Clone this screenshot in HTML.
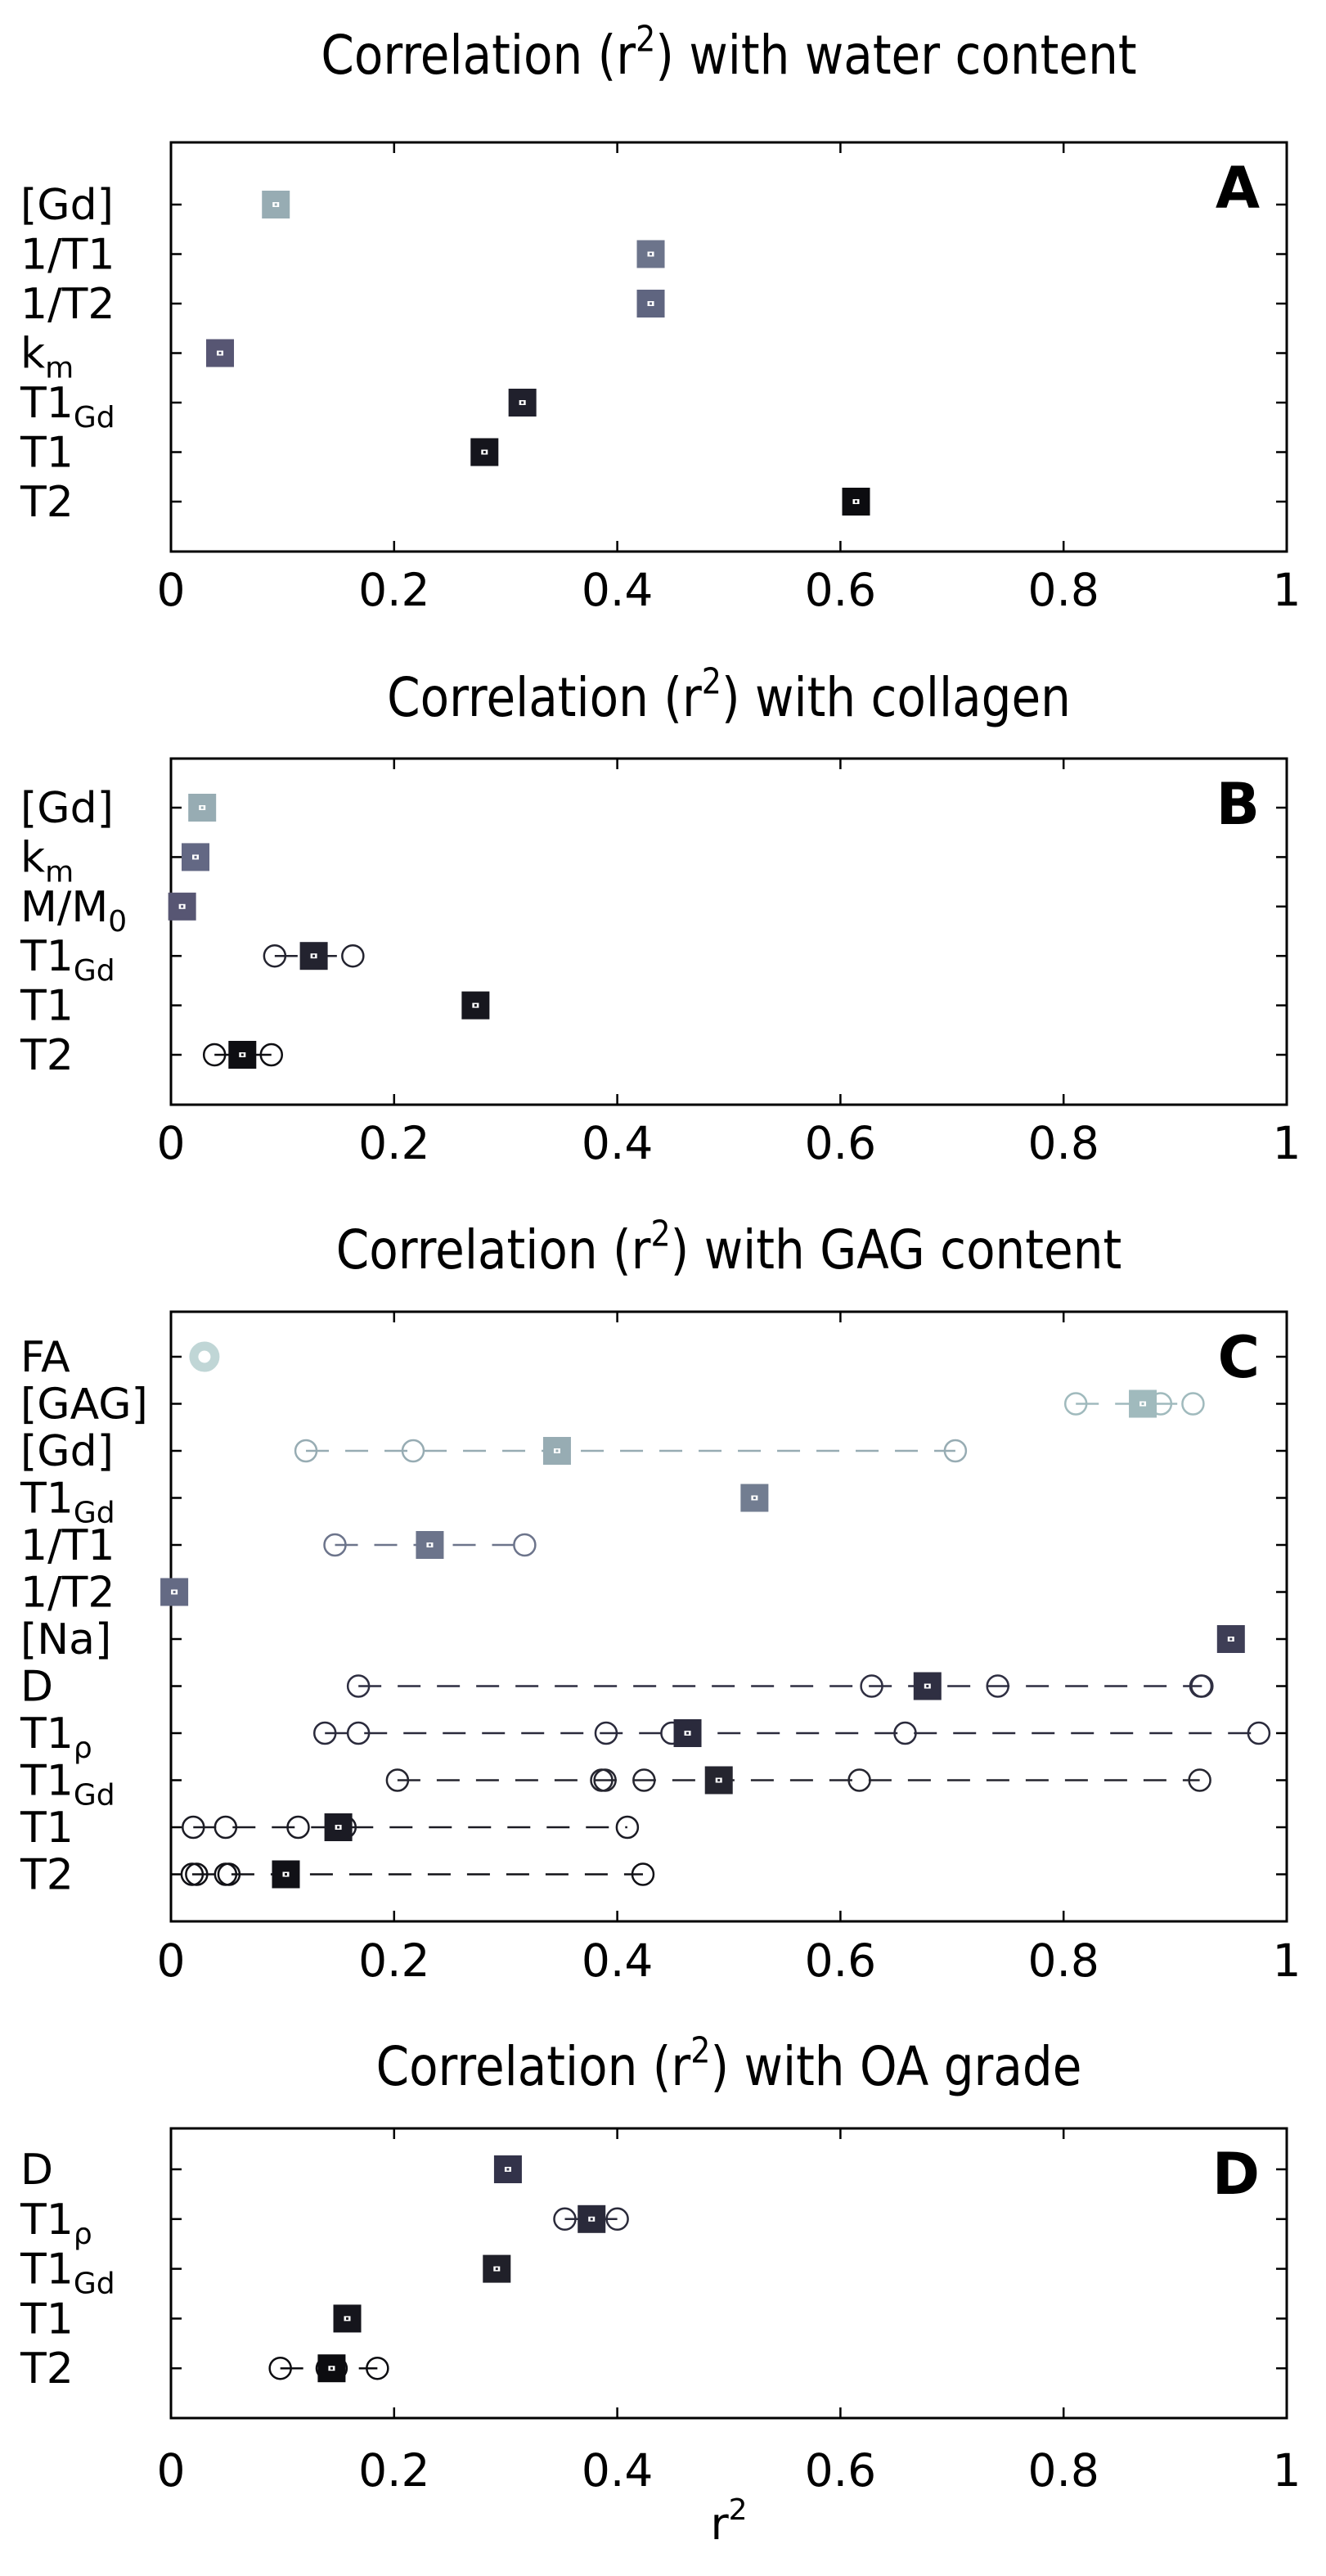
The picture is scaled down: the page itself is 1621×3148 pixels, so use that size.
<!DOCTYPE html>
<html><head><meta charset="utf-8"><title>Correlation panels</title>
<style>
html,body{margin:0;padding:0;background:#fff;}
svg{display:block;font-family:"DejaVu Sans","Liberation Sans",sans-serif;}
</style></head>
<body>
<svg id="fig" width="1621" height="3148" viewBox="0 0 1621 3148" xmlns="http://www.w3.org/2000/svg"></svg>
<script>
// ---- Panel A data: water content ----
const aLabels = [["[Gd]",""],["1/T1",""],["1/T2",""],["k","m"],["T1","Gd"],["T1",""],["T2",""]];
const aValues = [0.094, 0.430, 0.430, 0.044, 0.315, 0.281, 0.614];
const aCircles = [[],[],[],[],[],[],[]];
// ---- Panel B data: collagen ----
const bLabels = [["[Gd]",""],["k","m"],["M/M","0"],["T1","Gd"],["T1",""],["T2",""]];
const bValues = [0.028, 0.022, 0.010, 0.128, 0.273, 0.064];
const bCircles = [[],[],[],[0.093,0.163],[],[0.039,0.090]];
// ---- Panel C data: GAG content ----
const cLabels = [["FA",""],["[GAG]",""],["[Gd]",""],["T1","Gd"],["1/T1",""],["1/T2",""],["[Na]",""],["D",""],["T1","ρ"],["T1","Gd"],["T1",""],["T2",""]];
const cValues = [null, 0.871, 0.346, 0.523, 0.232, 0.003, 0.950, 0.678, 0.463, 0.491, 0.150, 0.103];
const cCircles = [[0.030],[0.811,0.887,0.916],[0.121,0.217,0.703],[],[0.147,0.317],[],[],
  [0.168,0.628,0.741,0.923,0.924],[0.138,0.168,0.390,0.449,0.658,0.975],
  [0.203,0.386,0.389,0.424,0.617,0.922],[0.020,0.049,0.114,0.156,0.409],[0.019,0.023,0.049,0.052,0.423]];
// ---- Panel D data: OA grade ----
const dLabels = [["D",""],["T1","ρ"],["T1","Gd"],["T1",""],["T2",""]];
const dValues = [0.302, 0.377, 0.292, 0.158, 0.144];
const dCircles = [[],[0.353,0.400],[],[],[0.098,0.140,0.148,0.185]];
// ---- Axis ticks ----
const xTicks = [0, 0.2, 0.4, 0.6, 0.8, 1];
const xTickLabels = ["0","0.2","0.4","0.6","0.8","1"];

const NS = "http://www.w3.org/2000/svg";
const svg = document.getElementById('fig');
const X0 = 209, X1 = 1573;
function xs(v){ return X0 + v*(X1-X0); }
function mk(tag, attrs, parent){
  const e = document.createElementNS(NS, tag);
  for (const k in attrs) e.setAttribute(k, attrs[k]);
  (parent||svg).appendChild(e);
  return e;
}

const panels = [
  {key:"a", title:"with water content", letter:"A", top:174, bottom:674, first:250, sp:60.5, titleY:90, lblGap:66,
   labels:aLabels, values:aValues, circles:aCircles,
   colors:["#97acb3","#6c748b","#5f6580","#575673","#20202c","#15151c","#0c0c10"]},
  {key:"b", title:"with collagen", letter:"B", top:927, bottom:1350, first:987, sp:60.4, titleY:875, lblGap:66,
   labels:bLabels, values:bValues, circles:bCircles,
   colors:["#97acb3","#636884","#575673","#23232f","#17171e","#0e0e12"]},
  {key:"c", title:"with GAG content", letter:"C", top:1603, bottom:2348, first:1658, sp:57.5, titleY:1550, lblGap:67,
   labels:cLabels, values:cValues, circles:cCircles,
   colors:["#c0d6d6","#a0babd","#97acb3","#727d91","#6c748b","#646a84","#3e3e56","#2f2f42","#2a2a3c","#25252f","#1b1b24","#111116"]},
  {key:"d", title:"with OA grade", letter:"D", top:2601, bottom:2955, first:2651, sp:60.8, titleY:2548, lblGap:83,
   labels:dLabels, values:dValues, circles:dCircles,
   colors:["#33334a","#2a2a3a","#202029","#15151c","#0c0c10"]}
];

panels.forEach(p => {
  const g = mk('g', {});
  
  
  // title (vertically stretched like the reference)
  const tg = mk('g', {transform:'translate(' + ((X0+X1)/2) + ',' + p.titleY + ') scale(1,1.14)'}, g);
  const t = mk('text', {x:0, y:0, 'font-size': 58, 'text-anchor':'middle', fill:'#000'}, tg);
  
  
  t.appendChild(document.createTextNode('Correlation (r'));
  const sup = mk('tspan', {'font-size': 38, dy: -24}, t);
  sup.textContent = '2';
  const rest = mk('tspan', {dy: 24}, t);
  rest.textContent = ') ' + p.title;
  // frame
  const fr = mk('rect', {x:X0, y:p.top, width:X1-X0, height:p.bottom-p.top, fill:'none', stroke:'#000', 'stroke-width':3}, g);
  
  
  // x ticks
  xTicks.forEach((v,i) => {
    const x = xs(v);
    if (i>0 && i<xTicks.length-1){
      mk('line', {x1:x, x2:x, y1:p.top, y2:p.top+13, stroke:'#000', 'stroke-width':2.5}, g);
      mk('line', {x1:x, x2:x, y1:p.bottom, y2:p.bottom-13, stroke:'#000', 'stroke-width':2.5}, g);
    }
    const tl = mk('text', {x:x, y:p.bottom+p.lblGap, 'font-size':55, 'text-anchor':'middle', fill:'#000'}, g);
    
    
    tl.textContent = xTickLabels[i];
  });
  // rows
  p.labels.forEach((lab, i) => {
    const y = p.first + i*p.sp;
    mk('line', {x1:X0, x2:X0+13, y1:y, y2:y, stroke:'#000', 'stroke-width':2.5}, g);
    mk('line', {x1:X1, x2:X1-13, y1:y, y2:y, stroke:'#000', 'stroke-width':2.5}, g);
    const yl = mk('text', {x:25, y:y+18, 'font-size':52, fill:'#000'}, g);
    
    
    yl.appendChild(document.createTextNode(lab[0]));
    if (lab[1]){
      const sb = mk('tspan', {'font-size':36, dy:12}, yl);
      sb.textContent = lab[1];
    }
    const col = p.colors[i];
    const circ = p.circles[i];
    const all = circ.slice();
    if (p.values[i] !== null) all.push(p.values[i]);
    if (all.length > 1 && circ.length > 0){
      const mn = Math.min.apply(null, all), mx = Math.max.apply(null, all);
      const ln = mk('line', {x1:xs(mn), x2:xs(mx), y1:y, y2:y, stroke:col, 'stroke-width':2.5, 'stroke-dasharray':'28 20'}, g);
      
      
    }
    circ.forEach(v => {
      const isFA = (p.key==='c' && i===0);
      const c = mk('circle', {cx:xs(v), cy:y, r:13, fill:'none', stroke:col, 'stroke-width': isFA?11:2.5}, g);
      
      
    });
    if (p.values[i] !== null){
      const x = xs(p.values[i]);
      const s = mk('rect', {x:x-17, y:y-17, width:34, height:34, fill:col}, g);
      
      
      mk('rect', {x:x-4, y:y-3, width:8, height:6, fill:'#fff'}, g);
      mk('rect', {x:x-1.5, y:y-1.5, width:3, height:3, fill:col}, g);
    }
  });
  const L = mk('text', {x:1540, y:p.top+80, 'font-size':70, 'font-weight':'bold', 'text-anchor':'end', fill:'#000'}, g);
  
  
  L.textContent = p.letter;
});
const xt = mk('text', {x:(X0+X1)/2, y:3103, 'font-size':54, 'text-anchor':'middle', fill:'#000'});


xt.appendChild(document.createTextNode('r'));
const xsup = mk('tspan', {'font-size':36, dy:-24}, xt);
xsup.textContent = '2';
</script>
</body></html>
